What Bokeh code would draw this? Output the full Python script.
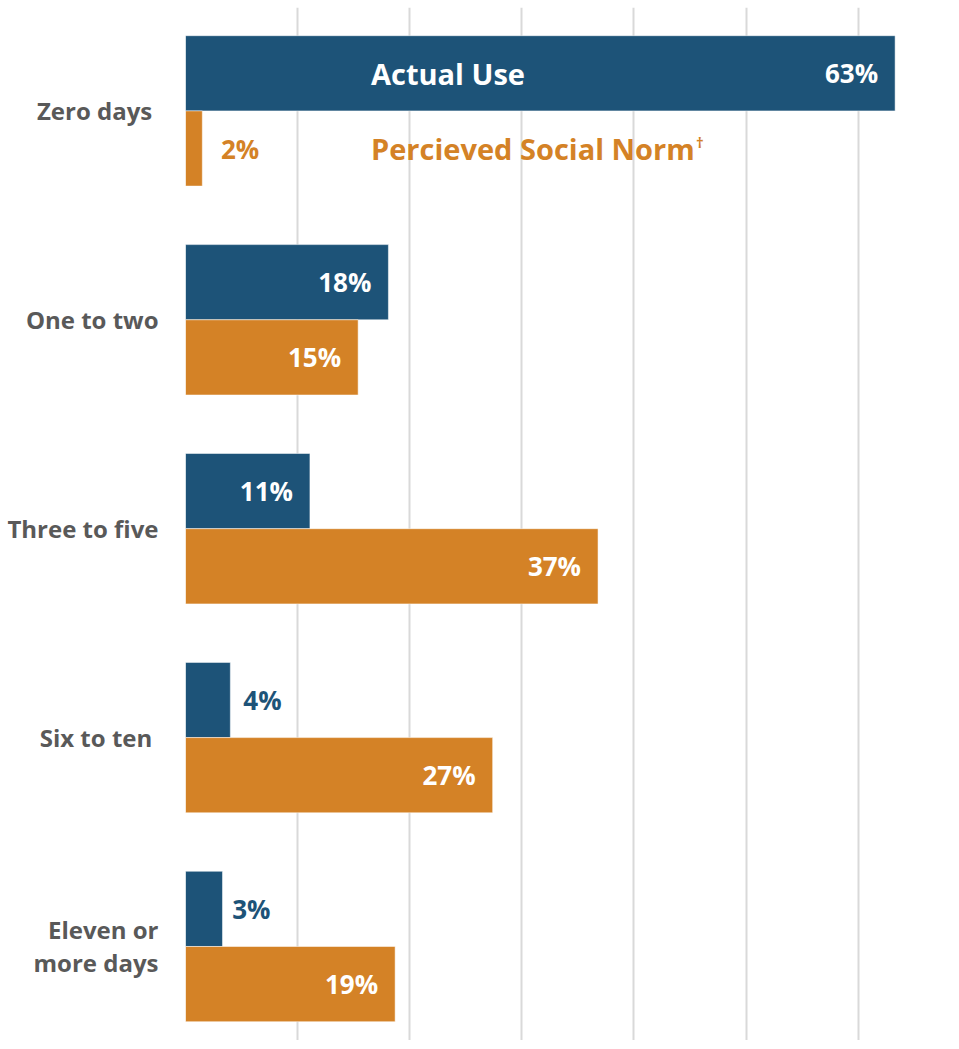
from bokeh.plotting import figure
from bokeh.models import ColumnDataSource, FixedTicker, Label, Range1d
from bokeh.transform import dodge
from bokeh.core.properties import value
from bokeh.embed import file_html
from bokeh.resources import INLINE

# ---- data ----
categories = ["Zero days ", "One to two", "Three to five", "Six to ten ", "Eleven or\nmore days"]
actual = [63.3, 18.1, 11.1, 4.0, 3.3]
perceived = [1.5, 15.4, 36.8, 27.4, 18.7]
actual_labels = ["63%", "18%", "11%", "4%", "3%"]
perceived_labels = ["2%", "15%", "37%", "27%", "19%"]
grid_ticks = [0, 10, 20, 30, 40, 50, 60, 70]
series_names = ["Actual Use", "Percieved Social Norm"]

BLUE = "#1D5378"
ORANGE = "#D48226"
GRAY = "#595959"
FONT = "Open Sans"
BAR_H = 0.36

pos = list(range(len(categories) - 1, -1, -1))

p = figure(width=951, height=1040, output_backend="svg", toolbar_location=None,
           x_range=Range1d(0, 68.33), y_range=Range1d(-0.45, 4.495),
           min_border_left=185, min_border_right=0, min_border_top=7, min_border_bottom=0)
p.outline_line_color = None
p.background_fill_color = "white"
p.border_fill_color = "white"

p.xaxis.visible = False
p.xgrid.ticker = FixedTicker(ticks=grid_ticks)
p.xgrid.grid_line_color = "#D9D9D9"
p.xgrid.grid_line_width = 2
p.ygrid.grid_line_color = None

p.yaxis.ticker = FixedTicker(ticks=pos)
p.yaxis.major_label_overrides = {pp: c for pp, c in zip(pos, categories)}
p.yaxis.axis_line_color = None
p.yaxis.major_tick_line_color = None
p.yaxis.minor_tick_line_color = None
p.yaxis.major_tick_out = 0
p.yaxis.major_label_standoff = 27
p.yaxis.major_label_text_font = FONT
p.yaxis.major_label_text_font_style = "bold"
p.yaxis.major_label_text_font_size = "24px"
p.yaxis.major_label_text_color = GRAY
p.yaxis.major_label_text_line_height = 1.0

def add_series(values, labels, color, offset):
    src = ColumnDataSource(dict(y=pos, v=values))
    p.hbar(y=dodge("y", offset), right="v", left=0, height=BAR_H, source=src,
           fill_color=color, line_color="white", line_alpha=0.5, line_width=1)
    ins = [i for i, v in enumerate(values) if v >= 10]
    outs = [i for i, v in enumerate(values) if v < 10]
    s_in = ColumnDataSource(dict(y=[pos[i] + offset for i in ins],
                                 x=[values[i] for i in ins],
                                 t=[labels[i] for i in ins]))
    p.text(x="x", y="y", text="t", source=s_in, x_offset=-17, text_align="right",
           text_baseline="middle", text_color="white", text_font=value(FONT),
           text_font_style="bold", text_font_size="26px")
    s_out = ColumnDataSource(dict(y=[pos[i] + offset for i in outs],
                                  x=[float(labels[i].rstrip("%")) for i in outs],
                                  t=[labels[i] for i in outs]))
    p.text(x="x", y="y", text="t", source=s_out, x_offset=13, text_align="left",
           text_baseline="middle", text_color=color, text_font=value(FONT),
           text_font_style="bold", text_font_size="26px")

add_series(actual, actual_labels, BLUE, BAR_H / 2)
add_series(perceived, perceived_labels, ORANGE, -BAR_H / 2)

top = pos[0]
p.add_layout(Label(x=16.55, y=top + BAR_H / 2, text=series_names[0], text_color="white",
                   text_font=FONT, text_font_style="bold", text_font_size="29px",
                   text_baseline="middle"))
p.add_layout(Label(x=16.55, y=top - BAR_H / 2, text=series_names[1], text_color=ORANGE,
                   text_font=FONT, text_font_style="bold", text_font_size="29px",
                   text_baseline="middle"))
p.add_layout(Label(x=16.55, y=top - BAR_H / 2, x_offset=325, y_offset=7, text="\u2020",
                   text_color=ORANGE, text_font=FONT, text_font_style="bold",
                   text_font_size="15px", text_baseline="middle"))

open("out.html", "w").write(file_html(p, INLINE))
